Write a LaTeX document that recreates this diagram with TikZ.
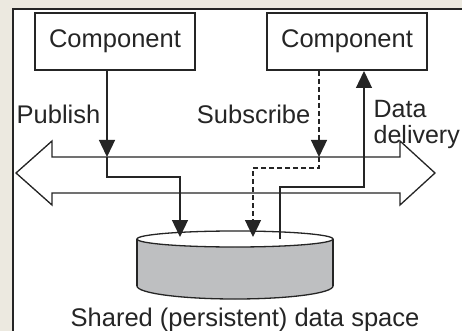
\documentclass[tikz,border=0pt]{standalone}
\usepackage{fontspec}
\setmainfont{Liberation Sans}
\usetikzlibrary{arrows.meta,positioning}
\definecolor{pagebg}{HTML}{ECE9E0}
\definecolor{ink}{HTML}{252525}
\definecolor{drumgray}{HTML}{BEBFC1}

\begin{document}
\begin{tikzpicture}[x=1pt, y=-1pt, color=ink, line width=1.3pt, font=\fontsize{25.5}{25.5}\selectfont]
  \tikzstyle{comp}=[draw, line width=2pt, minimum width=160pt, minimum height=57pt, inner sep=0pt]
  \tikzstyle{flow}=[-{Triangle[length=17pt, width=16pt]}]
  \tikzstyle{lbl}=[inner sep=6pt]
  \useasboundingbox (0,0) rectangle (462,331);
  % page and frame
  \fill[pagebg] (0,0) rectangle (462,331);
  \fill[white] (13,9) rectangle (462,331);
  \draw[line width=2pt] (13,331) -- (13,9) -- (462,9);

  \node[comp] (pubcomp) at (115,41.5) {Component};
  \node[comp, right=70pt of pubcomp] (subcomp) {Component};

  % the bus (double arrow)
  \coordinate (busN) at (52,157);
  \coordinate (busS) at (52,193);
  \draw[fill=white] (16,173) -- (52,141) -- (busN) -- (400,157) -- (400,141) -- (435,173)
    -- (400,205) -- (400,193) -- (busS) -- (52,205) -- cycle;

  % shared data space
  \coordinate (store) at (235,239);
  \draw[fill=drumgray] (235,286) ellipse [x radius=98, y radius=13];
  \fill[drumgray] (137,239) rectangle (333,286);
  \draw (137,239) -- (137,286) (333,239) -- (333,286);
  \draw[fill=white] (store) ellipse [x radius=98, y radius=8];
  \coordinate (drop1) at (180,237);
  \coordinate (drop2) at (253,237);
  \coordinate (lift) at (280,239);

  % publish
  \draw[flow] ([xshift=-8pt]pubcomp.south) -- node[lbl, left] (publbl) {Publish} ([xshift=-8pt]pubcomp.south |- busN) coordinate (pubin);
  \draw[flow] (pubin) -- ++(0,20) -| (drop1);
  % subscribe
  \draw[flow, dash pattern=on 5pt off 3pt] ([xshift=-28pt]subcomp.south) -- node[lbl, inner sep=8pt, left] (sublbl) {Subscribe} ([xshift=-28pt]subcomp.south |- busN) coordinate (subin);
  \draw[flow, dash pattern=on 5pt off 3pt] (subin) -- ++(0,11) -| (drop2);
  % data delivery
  \draw[flow] (lift) -- ++(0,-52) -| ([xshift=17pt]subcomp.south);
  \node[anchor=north west, align=left, inner sep=0pt, font=\fontsize{25}{25.5}\selectfont] (dlvlbl) at (373,100) {Data\\delivery};

  \node[anchor=base] (caption) at (245,326) {Shared (persistent) data space};
\end{tikzpicture}
\end{document}
